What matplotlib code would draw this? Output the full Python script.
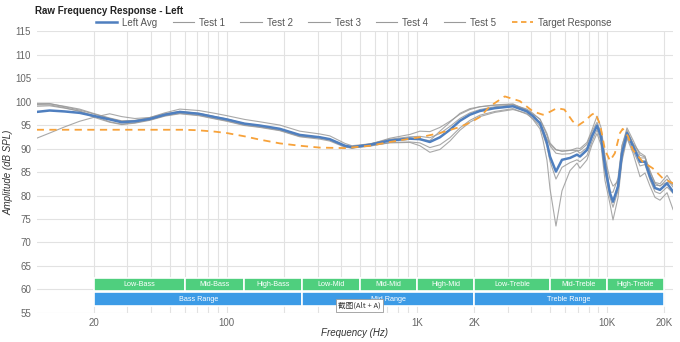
import matplotlib
matplotlib.use('Agg')
import matplotlib.pyplot as plt
from matplotlib.lines import Line2D

plt.rcParams['font.family'] = ['Liberation Sans', 'Noto Sans CJK SC', 'DejaVu Sans']

# frequency grid (Hz) shared by the average and the five tests
freq = [10, 11.7, 14, 16.8, 20.2, 24.2, 28, 32.8, 39.3, 47.2, 56.6, 71.2, 86.5, 100,
        124, 149, 190, 242, 309, 348, 418, 455, 566, 721, 919, 1037, 1170, 1322,
        1492, 1684, 1900, 2145, 2573, 3201, 3793, 4077, 4440, 4605, 4833, 5012,
        5390, 5798, 6389, 6952, 7210, 7848, 8340, 8859, 9299, 9761, 10370, 10755,
        11425, 11995, 12743, 13705, 14917, 15849, 16840, 17890, 19010, 20700, 22260]

left_avg = [97.8, 98.1, 97.9, 97.6, 96.9, 96.2, 95.6, 95.8, 96.3, 97.2, 97.8, 97.4, 96.7, 96.2,
            95.3, 94.9, 94.2, 92.9, 92.4, 92.0, 90.6, 90.3, 90.8, 91.7, 92.1, 92.0, 91.4, 92.4,
            94.0, 95.9, 97.2, 98.0, 98.6, 99.0, 97.9, 96.9, 95.4, 93.7, 91.2, 88.3,
            85.1, 87.6, 88.0, 88.7, 88.3, 89.7, 92.6, 94.9, 92.6, 86.2, 80.5, 78.7,
            81.9, 89.0, 93.3, 90.5, 87.2, 87.2, 84.0, 81.6, 81.2, 82.6, 80.8]

test1 = [99.6, 99.6, 98.9, 98.2, 97.3, 96.4, 95.8, 95.9, 96.4, 97.2, 97.8, 97.4, 96.7, 96.1,
         95.3, 94.8, 94.1, 92.8, 92.3, 91.9, 90.6, 90.2, 90.9, 92.2, 93.0, 93.7, 93.6, 94.5,
         95.8, 97.3, 98.3, 98.9, 99.3, 99.5, 98.2, 97.3, 96.3, 95.0, 93.2, 91.2,
         89.8, 89.4, 89.6, 90.1, 90.0, 91.3, 94.0, 96.9, 94.5, 88.5, 80.5, 78.5,
         82.3, 90.5, 94.4, 91.8, 88.6, 88.2, 85.3, 82.6, 82.0, 83.5, 81.8]

test2 = [99.4, 99.5, 99.0, 98.4, 97.4, 96.5, 95.9, 96.0, 96.6, 97.6, 98.4, 98.1, 97.5, 97.0,
         96.2, 95.7, 95.0, 93.7, 93.1, 92.7, 91.1, 90.6, 91.0, 92.0, 92.5, 92.6, 92.3, 93.2,
         94.7, 96.4, 97.6, 98.3, 98.9, 99.3, 98.4, 97.5, 96.2, 94.8, 92.8, 90.6,
         89.0, 88.8, 88.9, 89.5, 89.6, 90.9, 93.6, 95.6, 93.4, 88.0, 83.5, 82.0,
         83.0, 88.5, 93.5, 91.0, 88.0, 88.0, 85.0, 82.8, 82.5, 84.3, 82.2]

test3 = [99.0, 99.1, 98.6, 98.0, 96.9, 95.7, 95.2, 95.5, 96.1, 97.0, 97.5, 97.1, 96.4, 95.9,
         95.0, 94.6, 93.9, 92.6, 92.2, 91.8, 90.4, 90.1, 90.5, 91.3, 91.4, 91.2, 90.2, 90.8,
         92.3, 94.4, 96.0, 97.1, 97.9, 98.5, 97.3, 96.4, 94.8, 93.0, 90.5, 87.3,
         83.5, 86.0, 87.0, 87.6, 87.2, 88.5, 91.5, 94.0, 91.6, 85.0, 79.6, 77.5,
         81.0, 88.0, 92.5, 89.6, 86.3, 86.6, 83.3, 80.8, 80.4, 81.8, 80.5]

test4 = [99.3, 99.3, 98.7, 97.9, 96.6, 95.6, 95.1, 95.4, 96.0, 96.9, 97.4, 97.0, 96.3, 95.8,
         94.9, 94.5, 93.8, 92.5, 92.0, 91.6, 90.3, 90.1, 90.6, 91.2, 91.3, 90.6, 89.2, 89.8,
         91.6, 93.9, 95.6, 96.8, 97.7, 98.3, 97.5, 96.2, 94.2, 91.8, 87.5, 81.5,
         73.5, 81.0, 85.3, 86.9, 85.8, 87.6, 90.8, 93.2, 90.8, 83.2, 78.2, 74.8,
         79.5, 87.3, 92.2, 89.0, 84.0, 84.8, 82.0, 79.6, 79.0, 80.6, 77.0]

test5 = [92.2, 93.3, 94.6, 95.8, 96.7, 97.4, 96.8, 96.4, 96.6, 97.4, 97.9, 97.5, 96.8, 96.3,
         95.3, 94.9, 94.2, 92.9, 92.4, 92.0, 90.6, 90.4, 91.0, 91.8, 92.3, 91.9, 91.7, 93.7,
         95.6, 97.5, 98.5, 98.9, 99.2, 99.4, 98.1, 97.1, 95.5, 93.9, 92.0, 90.9,
         89.7, 89.5, 89.6, 89.6, 89.0, 90.2, 93.1, 94.8, 92.7, 86.3, 80.7, 80.7,
         83.7, 90.7, 93.9, 91.1, 89.1, 88.4, 84.4, 82.2, 82.1, 82.8, 82.5]

target_freq = [10, 20, 40, 60, 70, 86.5, 100, 124, 149, 190, 242, 309, 418, 566, 721, 919,
               1037, 1322, 1684, 1900, 2145, 2423, 2900, 3480, 4080, 4600, 5000, 5450,
               5970, 6600, 7040, 7600, 8300, 8650, 9200, 9760, 10370, 11000, 11700,
               12100, 12900, 13700, 15400, 17400, 19600, 22260]
target = [94.0, 94.0, 94.0, 94.0, 93.9, 93.6, 93.3, 92.6, 91.9, 91.1, 90.6, 90.2, 90.1, 90.6,
          91.4, 92.1, 92.4, 93.3, 94.6, 95.5, 96.7, 99.0, 101.1, 100.1, 97.9, 97.2, 97.8,
          98.6, 98.3, 95.8, 94.9, 95.8, 97.2, 97.6, 95.1, 89.7, 87.4, 89.0, 93.3, 94.2,
          92.6, 89.7, 87.2, 85.8, 83.7, 82.6]

band_names = ['Low-Bass', 'Mid-Bass', 'High-Bass', 'Low-Mid', 'Mid-Mid', 'High-Mid',
              'Low-Treble', 'Mid-Treble', 'High-Treble']
band_edges = [20, 60, 123, 250, 500, 1000, 2000, 5000, 10000, 20000]
range_names = ['Bass Range', 'Mid Range', 'Treble Range']
range_edges = [20, 250, 2000, 20000]

xtick_vals = [20, 100, 1000, 2000, 10000, 20000]
xtick_labels = ['20', '100', '1K', '2K', '10K', '20K']
minor_vals = [30, 40, 50, 60, 70, 80, 90, 200, 300, 400, 500, 600, 700, 800, 900,
              3000, 4000, 5000, 6000, 7000, 8000, 9000]

fig = plt.figure(figsize=(6.8, 3.42), dpi=100)
ax = fig.add_axes([0.054, 0.085, 0.936, 0.824])

gray = '#9a9a9a'
for t in [test1, test2, test3, test4, test5]:
    ax.plot(freq, t, color=gray, lw=0.8, alpha=0.85, zorder=3)
ax.plot(freq, left_avg, color='#4f7fbf', lw=1.8, zorder=4)
ax.plot(target_freq, target, color='#f7a23a', lw=1.3, ls=(0, (4, 3)), zorder=5)

# frequency bands
for i, name in enumerate(band_names):
    l, r = band_edges[i], band_edges[i + 1]
    ax.barh(61.0, r - l, left=l, height=2.8, color='#4fcf7e', edgecolor='white', lw=1.2, zorder=6)
    ax.text((l * r) ** 0.5, 61.0, name, color='white', fontsize=5.2, ha='center', va='center', zorder=7)
for i, name in enumerate(range_names):
    l, r = range_edges[i], range_edges[i + 1]
    ax.barh(57.95, r - l, left=l, height=2.9, color='#3c9be6', edgecolor='white', lw=1.2, zorder=6)
    ax.text((l * r) ** 0.5, 57.95, name, color='white', fontsize=5.2, ha='center', va='center', zorder=7)

ax.set_xscale('log')
ax.set_xlim(10, 22300)
ax.set_ylim(55, 115)
ax.set_yticks(range(55, 116, 5))
ax.set_xticks(xtick_vals)
ax.set_xticklabels(xtick_labels)
ax.set_xticks(minor_vals, minor=True)
ax.set_xticklabels([], minor=True)
ax.tick_params(axis='both', which='both', length=0, labelsize=7, colors='#666666', pad=4)
ax.grid(True, which='both', color='#e2e2e2', lw=0.8, zorder=0)
for s in ax.spines.values():
    s.set_visible(False)

ax.set_xlabel('Frequency (Hz)', fontsize=7, style='italic', color='#333333')
ax.xaxis.set_label_coords(0.5, -0.052)
ax.set_ylabel('Amplitude (dB SPL)', fontsize=7, style='italic', color='#333333')
ax.yaxis.set_label_coords(-0.037, 0.5)
fig.text(0.052, 0.968, 'Raw Frequency Response - Left', fontsize=7, fontweight='bold',
         color='#222222', va='center')

handles = [Line2D([], [], color='#4f7fbf', lw=1.8)]
handles += [Line2D([], [], color=gray, lw=0.8) for _ in range(5)]
handles.append(Line2D([], [], color='#f7a23a', lw=1.3, ls=(0, (3, 2))))
labels = ['Left Avg', 'Test 1', 'Test 2', 'Test 3', 'Test 4', 'Test 5', 'Target Response']
fig.legend(handles, labels, ncol=7, loc='center', bbox_to_anchor=(0.52, 0.934), frameon=False,
           fontsize=7, handlelength=2.2, handletextpad=0.5, columnspacing=1.6,
           labelcolor='#555555')

# screenshot tooltip in the original picture
ax.text(0.474, 0.027, '截图(Alt + A)', transform=ax.transAxes, fontsize=5.5, color='#333333',
        family=['Noto Sans CJK SC', 'DejaVu Sans'], va='center', zorder=10,
        bbox=dict(boxstyle='square,pad=0.3', fc='white', ec='#999999', lw=0.6))

fig.savefig('out.png', dpi=100)
